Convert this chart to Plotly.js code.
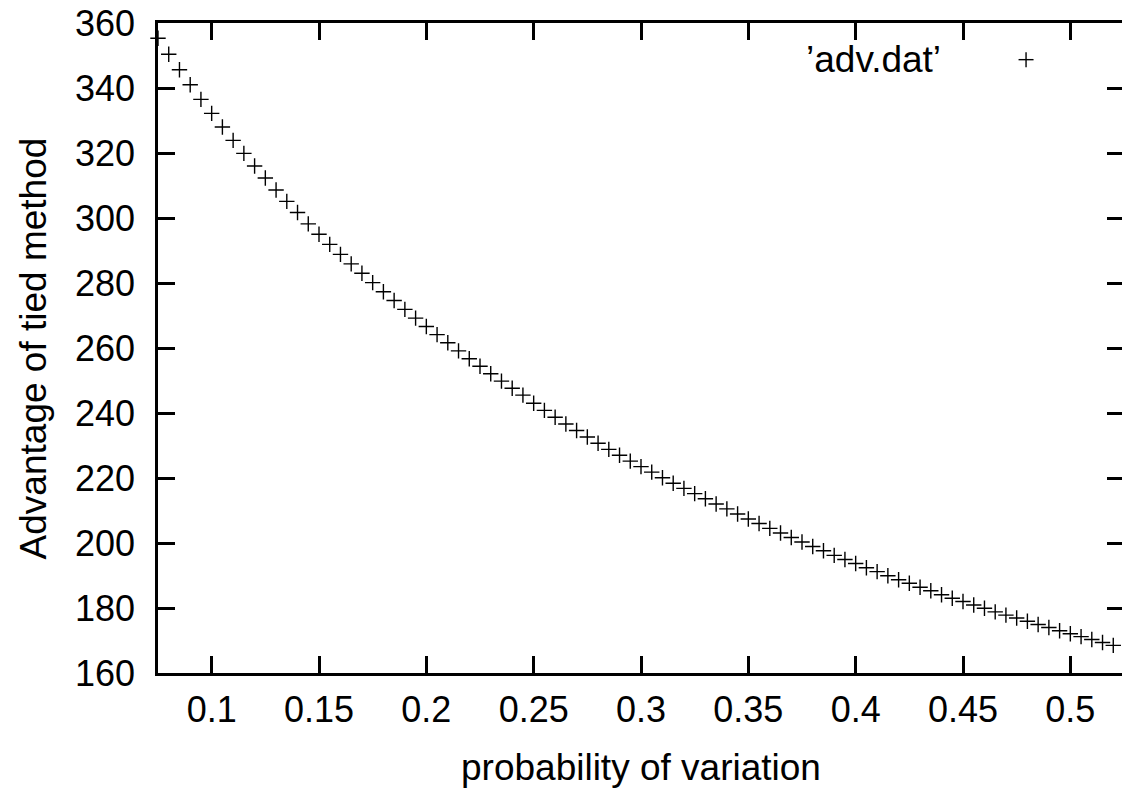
<!DOCTYPE html>
<html>
<head>
<meta charset="utf-8">
<script src="https://cdn.plot.ly/plotly-3.0.1.min.js"></script>
<style>
html, body { margin: 0; padding: 0; overflow: hidden; background: #fff; }
#chart { width: 1126px; height: 791px; }
</style>
</head>
<body>
<div id="chart"></div>
<script>
// probability of variation
var xValues = [0.075, 0.08, 0.085, 0.09, 0.095, 0.1, 0.105, 0.11, 0.115, 0.12,
  0.125, 0.13, 0.135, 0.14, 0.145, 0.15, 0.155, 0.16, 0.165, 0.17,
  0.175, 0.18, 0.185, 0.19, 0.195, 0.2, 0.205, 0.21, 0.215, 0.22,
  0.225, 0.23, 0.235, 0.24, 0.245, 0.25, 0.255, 0.26, 0.265, 0.27,
  0.275, 0.28, 0.285, 0.29, 0.295, 0.3, 0.305, 0.31, 0.315, 0.32,
  0.325, 0.33, 0.335, 0.34, 0.345, 0.35, 0.355, 0.36, 0.365, 0.37,
  0.375, 0.38, 0.385, 0.39, 0.395, 0.4, 0.405, 0.41, 0.415, 0.42,
  0.425, 0.43, 0.435, 0.44, 0.445, 0.45, 0.455, 0.46, 0.465, 0.47,
  0.475, 0.48, 0.485, 0.49, 0.495, 0.5, 0.505, 0.51, 0.515, 0.52];
// Advantage of tied method
var advValues = [355.3, 350.4, 345.6, 341.0, 336.5, 332.2, 328.0, 323.9, 319.9, 316.0,
  312.3, 308.6, 305.1, 301.7, 298.2, 295.0, 291.9, 288.8, 285.9, 283.0,
  280.1, 277.3, 274.6, 271.9, 269.2, 266.6, 264.1, 261.6, 259.1, 256.7,
  254.4, 252.1, 249.8, 247.6, 245.5, 243.0, 240.8, 238.7, 236.6, 234.6,
  232.6, 230.7, 228.8, 227.0, 225.2, 223.5, 221.8, 220.1, 218.4, 216.8,
  215.2, 213.6, 212.0, 210.5, 208.9, 207.4, 206.0, 204.5, 203.1, 201.7,
  200.3, 198.9, 197.6, 196.2, 194.9, 193.7, 192.4, 191.2, 189.9, 188.7,
  187.6, 186.4, 185.3, 184.1, 183.0, 182.0, 180.9, 179.9, 178.8, 177.8,
  176.9, 175.9, 174.9, 174.0, 173.0, 172.1, 171.2, 170.3, 169.4, 168.5];
var seriesName = "’adv.dat’";
var xTitle = "probability of variation";
var yTitle = "Advantage of tied method";

var FONT = "Liberation Sans, Arial, Helvetica, sans-serif";

var trace = {
  x: xValues,
  y: advValues,
  type: "scatter",
  mode: "markers",
  name: seriesName,
  cliponaxis: false,
  marker: {
    symbol: "cross-thin",
    size: 11,
    color: "#000",
    line: { color: "#000", width: 1.4 }
  },
  hoverinfo: "x+y"
};

var axisCommon = {
  showgrid: false,
  zeroline: false,
  showline: true,
  linecolor: "#000",
  linewidth: 2.5,
  mirror: "ticks",
  ticks: "inside",
  ticklen: 17,
  tickwidth: 2.5,
  tickcolor: "#000",
  tickfont: { family: FONT, size: 36, color: "#000" }
};

var layout = {
  width: 1126,
  height: 791,
  margin: { l: 158, r: 2, t: 23, b: 118 },
  paper_bgcolor: "#fff",
  plot_bgcolor: "#fff",
  showlegend: false,
  xaxis: Object.assign({}, axisCommon, {
    range: [0.075, 0.525],
    tick0: 0,
    dtick: 0.05,
    ticklabelstandoff: 3
  }),
  yaxis: Object.assign({}, axisCommon, {
    range: [160, 360],
    tick0: 0,
    dtick: 20,
    ticklabelstandoff: 13
  }),
  annotations: [
    { text: xTitle, xref: "paper", yref: "paper", x: 0.5, y: -0.146,
      xanchor: "center", yanchor: "middle", showarrow: false,
      font: { family: FONT, size: 37, color: "#000" } },
    { text: yTitle, xref: "paper", yref: "paper", x: -0.129, y: 0.5,
      xanchor: "center", yanchor: "middle", textangle: -90, showarrow: false,
      font: { family: FONT, size: 37, color: "#000" } },
    { text: seriesName, xref: "paper", yref: "paper", x: 0.8126, y: 0.9435,
      xanchor: "right", yanchor: "middle", showarrow: false,
      font: { family: FONT, size: 37, color: "#000" } }
  ],
  shapes: [
    { type: "line", xref: "paper", yref: "paper", xsizemode: "pixel", ysizemode: "pixel",
      xanchor: 0.8986, yanchor: 0.9436, x0: -7.5, x1: 7.5, y0: 0, y1: 0,
      line: { color: "#000", width: 1.4 } },
    { type: "line", xref: "paper", yref: "paper", xsizemode: "pixel", ysizemode: "pixel",
      xanchor: 0.8986, yanchor: 0.9436, x0: 0, x1: 0, y0: -7.5, y1: 7.5,
      line: { color: "#000", width: 1.4 } }
  ]
};

Plotly.newPlot("chart", [trace], layout, { displayModeBar: false, staticPlot: false });
</script>
</body>
</html>
